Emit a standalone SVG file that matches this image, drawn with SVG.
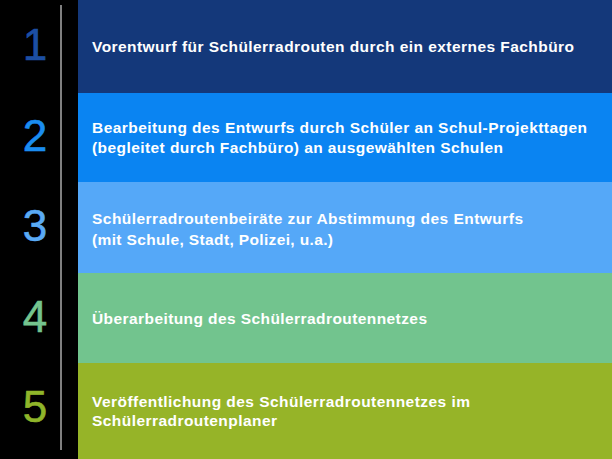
<svg xmlns="http://www.w3.org/2000/svg" width="612" height="459" viewBox="0 0 612 459">
<style>
.num{font-family:"Liberation Sans",Arial,sans-serif;font-size:44px;text-anchor:middle;stroke-width:0.6}
.lbl{font-family:"Liberation Sans",Arial,sans-serif;font-size:15.5px;font-weight:bold;fill:#ffffff}
</style>
<rect x="0" y="0" width="612" height="459" fill="#000000"/>
<g id="connectors">
<line x1="61" y1="5" x2="61" y2="450" stroke="#808080" stroke-width="2"/>
</g>
<g id="step1">
<rect x="78" y="0" width="534" height="93" fill="#14387a"/>
<text class="num" x="35" y="60" fill="#1c4fa3" stroke="#1c4fa3">1</text>
<text class="lbl" x="92" y="52" textLength="482" lengthAdjust="spacing">Vorentwurf für Schülerradrouten durch ein externes Fachbüro</text>
</g>
<g id="step2">
<rect x="78" y="93" width="534" height="89" fill="#0a84f2"/>
<text class="num" x="35" y="151" fill="#1a8cf0" stroke="#1a8cf0">2</text>
<text class="lbl" x="92" y="133" textLength="495" lengthAdjust="spacing">Bearbeitung des Entwurfs durch Schüler an Schul-Projekttagen</text>
<text class="lbl" x="92" y="153" textLength="411" lengthAdjust="spacing">(begleitet durch Fachbüro) an ausgewählten Schulen</text>
</g>
<g id="step3">
<rect x="78" y="182" width="534" height="91" fill="#55a8f8"/>
<text class="num" x="35" y="241" fill="#5aaaf5" stroke="#5aaaf5">3</text>
<text class="lbl" x="92" y="224" textLength="431" lengthAdjust="spacing">Schülerradroutenbeiräte zur Abstimmung des Entwurfs</text>
<text class="lbl" x="92" y="245" textLength="241" lengthAdjust="spacing">(mit Schule, Stadt, Polizei, u.a.)</text>
</g>
<g id="step4">
<rect x="78" y="273" width="534" height="90" fill="#72c48e"/>
<text class="num" x="35" y="332" fill="#74c48e" stroke="#74c48e">4</text>
<text class="lbl" x="92" y="324" textLength="335" lengthAdjust="spacing">Überarbeitung des Schülerradroutennetzes</text>
</g>
<g id="step5">
<rect x="78" y="363" width="534" height="96" fill="#96b428"/>
<text class="num" x="35" y="422" fill="#8fb52a" stroke="#8fb52a">5</text>
<text class="lbl" x="92" y="407" textLength="378" lengthAdjust="spacing">Veröffentlichung des Schülerradroutennetzes im</text>
<text class="lbl" x="92" y="426" textLength="185" lengthAdjust="spacing">Schülerradroutenplaner</text>
</g>
</svg>
